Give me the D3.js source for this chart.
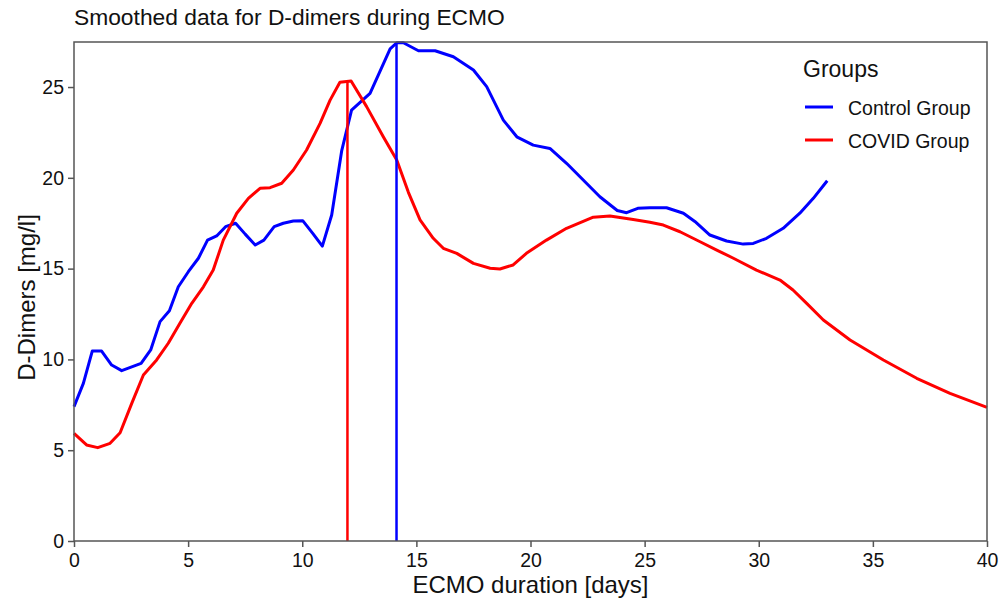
<!DOCTYPE html>
<html>
<head>
<meta charset="utf-8">
<script src="https://cdn.jsdelivr.net/npm/d3@7"></script>
<style>
  body { margin: 0; background: #fff; }
  text { font-family: "Liberation Sans", Arial, sans-serif; }
</style>
</head>
<body>
<div id="vis"></div>
<script>
// values
let controlDays = [0, 0.41, 0.8, 1.21, 1.65, 2.09, 2.94, 3.36, 3.77, 4.18, 4.57, 5.01, 5.45, 5.85, 6.25, 6.64, 7.08, 7.5, 7.94, 8.32, 8.77, 9.17, 9.61, 10.02, 10.46, 10.88, 11.29, 11.73, 12.16, 12.97, 13.85, 14.14, 14.43, 15.09, 15.82, 16.62, 17.5, 18.08, 18.81, 19.4, 20.12, 20.85, 21.58, 22.31, 23.04, 23.8, 24.21, 24.7, 25.23, 25.96, 26.7, 27.2, 27.86, 28.59, 29.32, 29.76, 30.34, 31.07, 31.8, 32.39, 33.0]
let controlValues = [7.4, 8.68, 10.46, 10.46, 9.69, 9.38, 9.78, 10.52, 12.08, 12.68, 14.0, 14.83, 15.57, 16.57, 16.8, 17.31, 17.5, 16.9, 16.3, 16.57, 17.31, 17.5, 17.62, 17.64, 16.94, 16.24, 17.95, 21.5, 23.73, 24.65, 27.1, 27.44, 27.44, 27.0, 27.0, 26.67, 25.94, 25.02, 23.18, 22.26, 21.8, 21.62, 20.8, 19.88, 18.96, 18.2, 18.08, 18.32, 18.35, 18.35, 18.05, 17.6, 16.85, 16.52, 16.35, 16.39, 16.67, 17.22, 18.05, 18.87, 19.84]

let covidDays = [0, 0.55, 1.04, 1.58, 2.02, 2.53, 3.04, 3.62, 4.13, 4.64, 5.16, 5.67, 6.1, 6.54, 7.13, 7.64, 8.15, 8.59, 9.1, 9.61, 10.19, 10.78, 11.22, 11.65, 12.14, 12.82, 13.55, 14.14, 14.65, 15.16, 15.74, 16.18, 16.77, 17.5, 18.23, 18.66, 19.24, 19.82, 20.7, 21.58, 22.75, 23.48, 24.5, 25.23, 25.82, 26.55, 27.43, 28.16, 28.89, 29.9, 30.93, 31.5, 32.1, 32.83, 34.0, 35.46, 36.92, 38.38, 40]
let covidValues = [5.93, 5.29, 5.14, 5.38, 5.96, 7.58, 9.14, 9.97, 10.89, 11.99, 13.09, 14.0, 14.92, 16.57, 18.05, 18.87, 19.42, 19.46, 19.7, 20.43, 21.53, 23.0, 24.28, 25.26, 25.33, 23.92, 22.26, 20.98, 19.2, 17.68, 16.67, 16.12, 15.84, 15.29, 15.02, 14.98, 15.2, 15.84, 16.57, 17.22, 17.83, 17.9, 17.7, 17.55, 17.4, 17.03, 16.48, 16.02, 15.57, 14.92, 14.37, 13.82, 13.09, 12.17, 11.07, 9.97, 8.96, 8.13, 7.36]

let groupNames = ['Control Group', 'COVID Group']
let peakDays = [14.13, 11.98]
let xTicks = [0, 5, 10, 15, 20, 25, 30, 35, 40]
let yTicks = [0, 5, 10, 15, 20, 25]

let series = [
  {name: groupNames[0], color: '#0000ff', pts: controlDays.map((d, i) => [d, controlValues[i]]), peak: peakDays[0]},
  {name: groupNames[1], color: '#ff0000', pts: covidDays.map((d, i) => [d, covidValues[i]]), peak: peakDays[1]}
]

let margin = {top: 42, right: 15, bottom: 63, left: 74},
    width = 1002 - margin.left - margin.right,
    height = 604 - margin.top - margin.bottom;

let svg = d3.select('#vis')
  .append('svg')
  .attr('width', 1002)
  .attr('height', 604)

let g = svg.append('g')
  .attr('transform', `translate(${margin.left},${margin.top})`)

let xScale = d3.scaleLinear().domain([0, 40]).range([0, width])
let yScale = d3.scaleLinear().domain([0, 27.48]).range([height, 0])

// axes
let xAxis = g.append('g')
  .attr('transform', `translate(0,${height})`)
  .call(d3.axisBottom(xScale).tickValues(xTicks).tickSize(6).tickPadding(6))
let yAxis = g.append('g')
  .call(d3.axisLeft(yScale).tickValues(yTicks).tickSize(6).tickPadding(4))

g.selectAll('.domain').remove()
g.selectAll('.tick line').attr('stroke', '#555').attr('stroke-width', 1.5)
g.selectAll('.tick text').attr('font-size', 19.5).attr('fill', '#111')
  .style('font-family', '"Liberation Sans", Arial, sans-serif')

// lines
let line = d3.line()
  .x(d => xScale(d[0]))
  .y(d => yScale(d[1]))

g.selectAll('.series')
  .data(series)
  .join('path')
  .attr('class', 'series')
  .attr('d', d => line(d.pts))
  .attr('fill', 'none')
  .attr('stroke', d => d.color)
  .attr('stroke-width', 3)
  .attr('stroke-linejoin', 'round')

// peak markers
g.selectAll('.peak')
  .data(series)
  .join('line')
  .attr('class', 'peak')
  .attr('x1', d => xScale(d.peak))
  .attr('x2', d => xScale(d.peak))
  .attr('y1', yScale(0))
  .attr('y2', d => yScale(d3.max(d.pts, p => p[1])))
  .attr('stroke', d => d.color)
  .attr('stroke-width', 2.5)

// frame
g.append('rect')
  .attr('width', width)
  .attr('height', height)
  .attr('fill', 'none')
  .attr('stroke', '#555')
  .attr('stroke-width', 1.5)

// title and labels
svg.append('text')
  .attr('x', margin.left)
  .attr('y', 25)
  .attr('font-size', 22.8)
  .attr('fill', '#111')
  .text('Smoothed data for D-dimers during ECMO')

svg.append('text')
  .attr('x', margin.left + width / 2)
  .attr('y', 593)
  .attr('text-anchor', 'middle')
  .attr('font-size', 24)
  .attr('fill', '#111')
  .text('ECMO duration [days]')

svg.append('text')
  .attr('transform', `translate(35,${margin.top + height / 2 + 6}) rotate(-90)`)
  .attr('text-anchor', 'middle')
  .attr('font-size', 24)
  .attr('fill', '#111')
  .text('D-Dimers [mg/l]')

// legend
let legend = svg.append('g').attr('transform', 'translate(803,0)')
legend.append('text')
  .attr('x', 0)
  .attr('y', 77)
  .attr('font-size', 23)
  .attr('fill', '#111')
  .text('Groups')

let items = legend.selectAll('.item')
  .data(series)
  .join('g')
  .attr('class', 'item')
  .attr('transform', (d, i) => `translate(0,${107 + i * 33})`)
items.append('line')
  .attr('x1', 2).attr('x2', 30)
  .attr('stroke', d => d.color)
  .attr('stroke-width', 3)
items.append('text')
  .attr('x', 45)
  .attr('y', 8)
  .attr('font-size', 19.5)
  .attr('fill', '#111')
  .text(d => d.name)
</script>
</body>
</html>
